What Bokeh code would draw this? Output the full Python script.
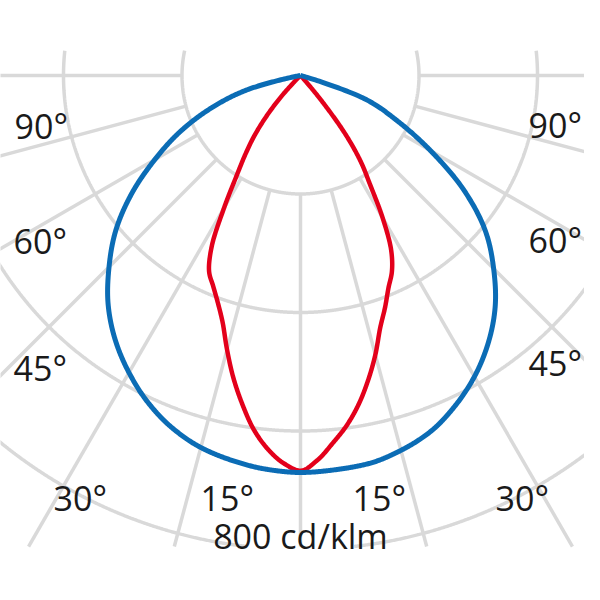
import numpy as np
from bokeh.plotting import figure
from bokeh.models import Range1d
from bokeh.core.properties import value
from bokeh.embed import file_html
from bokeh.resources import INLINE

# ---------------- data (cd/klm) ----------------
ring_values = [200, 400, 600, 800]
spoke_angles = [0, 15, 30, 45, 60, 75, 90]

blue_angles = [0, 5, 10, 15, 20, 25, 30, 35, 40, 45, 50, 55, 60, 65, 70, 75, 80, 85, 90]
blue_left = [670, 667, 660, 650, 633, 609, 579, 545, 505, 457, 407, 348, 284, 224, 160, 93, 0, 0, 0]
blue_right = [670, 668, 665, 655, 640, 616, 587, 552, 511, 461, 407, 336, 253, 179, 116, 0, 0, 0, 0]

red_angles = [0, 2.5, 5, 7.5, 10, 12.5, 15, 17.5, 20, 22.5, 25, 27.5, 30, 32.5, 35, 37.5, 40, 42.5, 45, 47.5]
red_left = [667, 655, 633, 603, 564, 523, 479, 437, 408, 385, 365, 324, 258, 201, 162, 127, 88, 47, 8, 0]
red_right = [667, 650, 623, 596, 564, 527, 488, 447, 417, 388, 365, 331, 277, 219, 177, 123, 51, 0, 0, 0]

left_labels = ["90°", "60°", "45°", "30°", "15°"]
right_labels = ["15°", "30°", "45°", "60°", "90°"]
scale_label = "800 cd/klm"

# ---------------- layout ----------------
K = 118.5 / 200.0          # pixels per cd/klm
CX, CY = 300.0, 75.0       # pole position in picture pixels
W = H = 584


def dx(px):
    return (px - CX) / K


def dy(py):
    return -(py - CY) / K


Y_TOP = dy(50)
Y_BOT = dy(546)

p = figure(width=W, height=H, output_backend="svg", toolbar_location=None,
           x_range=Range1d(dx(0), dx(W)), y_range=Range1d(dy(H), dy(0)),
           x_axis_type=None, y_axis_type=None, min_border=0,
           outline_line_color=None, background_fill_color="white")

GRID = "#d9d9d9"
GW = 3.5

# rings (clipped to band)
xs, ys = [], []
phi = np.linspace(-np.pi, np.pi, 2881)
for r in ring_values:
    x = r * np.sin(phi)
    y = -r * np.cos(phi)
    m = (y <= Y_TOP) & (y >= Y_BOT)
    idx = np.where(m)[0]
    if len(idx) == 0:
        continue
    runs = np.split(idx, np.where(np.diff(idx) != 1)[0] + 1)
    for run in runs:
        xs.append(list(x[run]))
        ys.append(list(y[run]))
p.multi_line(xs, ys, line_color=GRID, line_width=GW)

# spokes
sx, sy = [], []
for a in spoke_angles:
    t = np.radians(a)
    c = np.cos(t)
    r_end = 2000.0 if c < 1e-6 else min(2000.0, -Y_BOT / c)
    sides = [1] if a == 0 else [-1, 1]
    for s in sides:
        rr = np.array([ring_values[0], r_end])
        sx.append(list(s * rr * np.sin(t)))
        sy.append(list(-rr * np.cos(t)))
p.multi_line(sx, sy, line_color=GRID, line_width=GW)


def pchip(x, y, xn):
    x = np.asarray(x, float)
    y = np.asarray(y, float)
    h = np.diff(x)
    d = np.diff(y) / h
    n = len(x)
    m = np.zeros(n)
    m[0], m[-1] = d[0], d[-1]
    for k in range(1, n - 1):
        if d[k - 1] * d[k] <= 0:
            m[k] = 0.0
        else:
            w1 = 2 * h[k] + h[k - 1]
            w2 = h[k] + 2 * h[k - 1]
            m[k] = (w1 + w2) / (w1 / d[k - 1] + w2 / d[k])
    i = np.clip(np.searchsorted(x, xn) - 1, 0, n - 2)
    t = (xn - x[i]) / h[i]
    h00 = 2 * t**3 - 3 * t**2 + 1
    h10 = t**3 - 2 * t**2 + t
    h01 = -2 * t**3 + 3 * t**2
    h11 = t**3 - t**2
    return h00 * y[i] + h10 * h[i] * m[i] + h01 * y[i + 1] + h11 * h[i] * m[i + 1]


def curve(angles, left, right):
    a = np.asarray(angles, float)
    sa = np.concatenate([-a[::-1], a[1:]])
    iv = np.concatenate([np.asarray(left, float)[::-1], np.asarray(right, float)[1:]])
    fine = np.linspace(sa[0], sa[-1], 1441)
    I = np.clip(pchip(sa, iv, fine), 0, None)
    t = np.radians(fine)
    return I * np.sin(t), -I * np.cos(t)


rx, ry = curve(red_angles, red_left, red_right)
p.line(rx, ry, line_color="#e3001b", line_width=4.5, line_join="round")
bx, by = curve(blue_angles, blue_left, blue_right)
p.line(bx, by, line_color="#0b6cb5", line_width=5, line_join="round")

# labels
FONT = value("Open Sans")
FS = "34px"
lx = [dx(14), dx(13), dx(13), dx(53), dx(200)]
ly = [dy(125), dy(240), dy(367), dy(497), dy(497)]
p.text(lx, ly, text=left_labels, text_font=FONT, text_font_size=FS,
       text_color="#1a1a1a", text_align="left", text_baseline="alphabetic")
rxp = [dx(352), dx(495), dx(528), dx(528), dx(528)]
ryp = [dy(497), dy(497), dy(362), dy(239), dy(124)]
p.text(rxp, ryp, text=right_labels, text_font=FONT, text_font_size=FS,
       text_color="#1a1a1a", text_align="left", text_baseline="alphabetic")
p.text([0], [dy(535)], text=[scale_label], text_font=FONT, text_font_size=FS,
       text_color="#1a1a1a", text_align="center", text_baseline="alphabetic")

open("out.html", "w").write(file_html(p, INLINE))
